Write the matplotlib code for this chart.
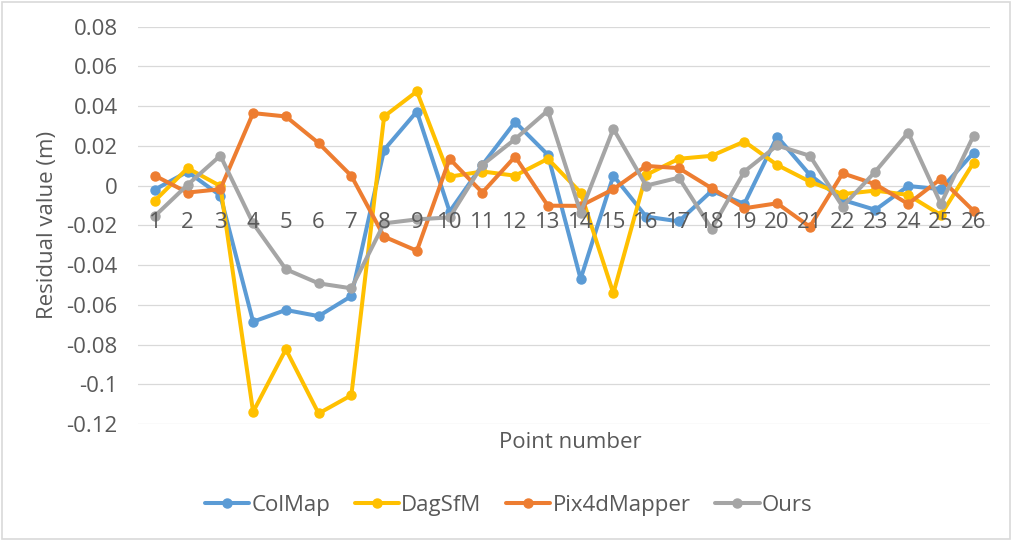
import numpy as np
import matplotlib
matplotlib.use("Agg")
import matplotlib.pyplot as plt
from matplotlib.patches import Rectangle

plt.rcParams['font.family'] = ['Open Sans', 'DejaVu Sans']

points = [str(i) for i in range(1, 27)]
colmap = [-0.002, 0.007, -0.005, -0.0685, -0.0626, -0.0657, -0.0556, 0.018, 0.0373,
          -0.0131, 0.0104, 0.032, 0.0155, -0.047, 0.005, -0.0156, -0.018,
          -0.0027, -0.0092, 0.0247, 0.0054, -0.0072, -0.0122, -0.0002, -0.0018, 0.0166]
dagsfm = [-0.0076, 0.0088, -0.0002, -0.1139, -0.0824, -0.1147, -0.1055, 0.0348, 0.0474,
          0.0045, 0.0071, 0.005, 0.0135, -0.0035, -0.0542, 0.0054, 0.0135,
          0.015, 0.0222, 0.0104, 0.002, -0.0043, -0.0025, -0.0047, -0.0148, 0.0116]
pix4d = [0.005, -0.0035, -0.0018, 0.0365, 0.0348, 0.0214, 0.0049, -0.0257, -0.0328,
         0.0135, -0.0035, 0.0146, -0.0101, -0.0102, -0.0018, 0.0099, 0.0088,
         -0.0013, -0.0114, -0.0089, -0.0207, 0.0062, 0.0007, -0.0092, 0.0034, -0.0128]
ours = [-0.0153, 0.0004, 0.0151, -0.019, -0.0421, -0.0492, -0.0517, -0.019, -0.017,
        -0.016, 0.0104, 0.0234, 0.0378, -0.0136, 0.0286, 0.0, 0.004,
        -0.0218, 0.0071, 0.0202, 0.015, -0.0106, 0.0071, 0.0267, -0.0092, 0.0252]

series_names = ['ColMap', 'DagSfM', 'Pix4dMapper', 'Ours']
series_data = [colmap, dagsfm, pix4d, ours]
colors = ['#5B9BD5', '#FFC000', '#ED7D31', '#A5A5A5']

yticks = [0.08, 0.06, 0.04, 0.02, 0, -0.02, -0.04, -0.06, -0.08, -0.1, -0.12]
ytick_labels = ['0.08', '0.06', '0.04', '0.02', '0', '-0.02', '-0.04', '-0.06', '-0.08', '-0.1', '-0.12']

txt = '#595959'
fs = 16

fig = plt.figure(figsize=(10.13, 5.4), dpi=100)
ax = fig.add_axes([0.1367, 0.2148, 0.9773 - 0.1367, 0.9506 - 0.2148])

x = np.arange(len(points))
for name, vals, c in zip(series_names, series_data, colors):
    ax.plot(x, vals, color=c, lw=2.9, marker='o', ms=6.5, label=name,
            solid_capstyle='round', solid_joinstyle='round')

ax.set_xlim(-0.5, len(points) - 0.5)
ax.set_ylim(-0.12, 0.08)
ax.set_yticks(yticks)
ax.set_yticklabels(ytick_labels)
ax.set_xticks(x)
ax.set_xticklabels(points)
ax.grid(axis='y', color='#D9D9D9', lw=0.9)
ax.set_axisbelow(True)
ax.xaxis.set_zorder(5)   # category labels sit on top of the lines, like excel
for s in ['top', 'right', 'left']:
    ax.spines[s].set_visible(False)
ax.spines['bottom'].set_position(('data', 0))
ax.spines['bottom'].set_visible(False)
ax.tick_params(axis='both', length=0, labelsize=fs, labelcolor=txt)
ax.tick_params(axis='y', pad=15)
ax.tick_params(axis='x', pad=19)

ax.set_ylabel('Residual value (m)', fontsize=fs, color=txt, labelpad=6)
fig.text(0.5625, 0.181, 'Point number', fontsize=fs, color=txt, ha='center', va='center')

leg = fig.legend(loc='center', bbox_to_anchor=(0.502, 0.064), ncol=4, frameon=False,
                 fontsize=fs, labelcolor=txt, handlelength=2.0, columnspacing=1.1,
                 handletextpad=0.1)

fig.patches.append(Rectangle((0.0015, 0.002), 0.996, 0.995, transform=fig.transFigure,
                             fill=False, edgecolor='#D9D9D9', lw=1.2))

fig.savefig('out.png', dpi=100, facecolor='white')
